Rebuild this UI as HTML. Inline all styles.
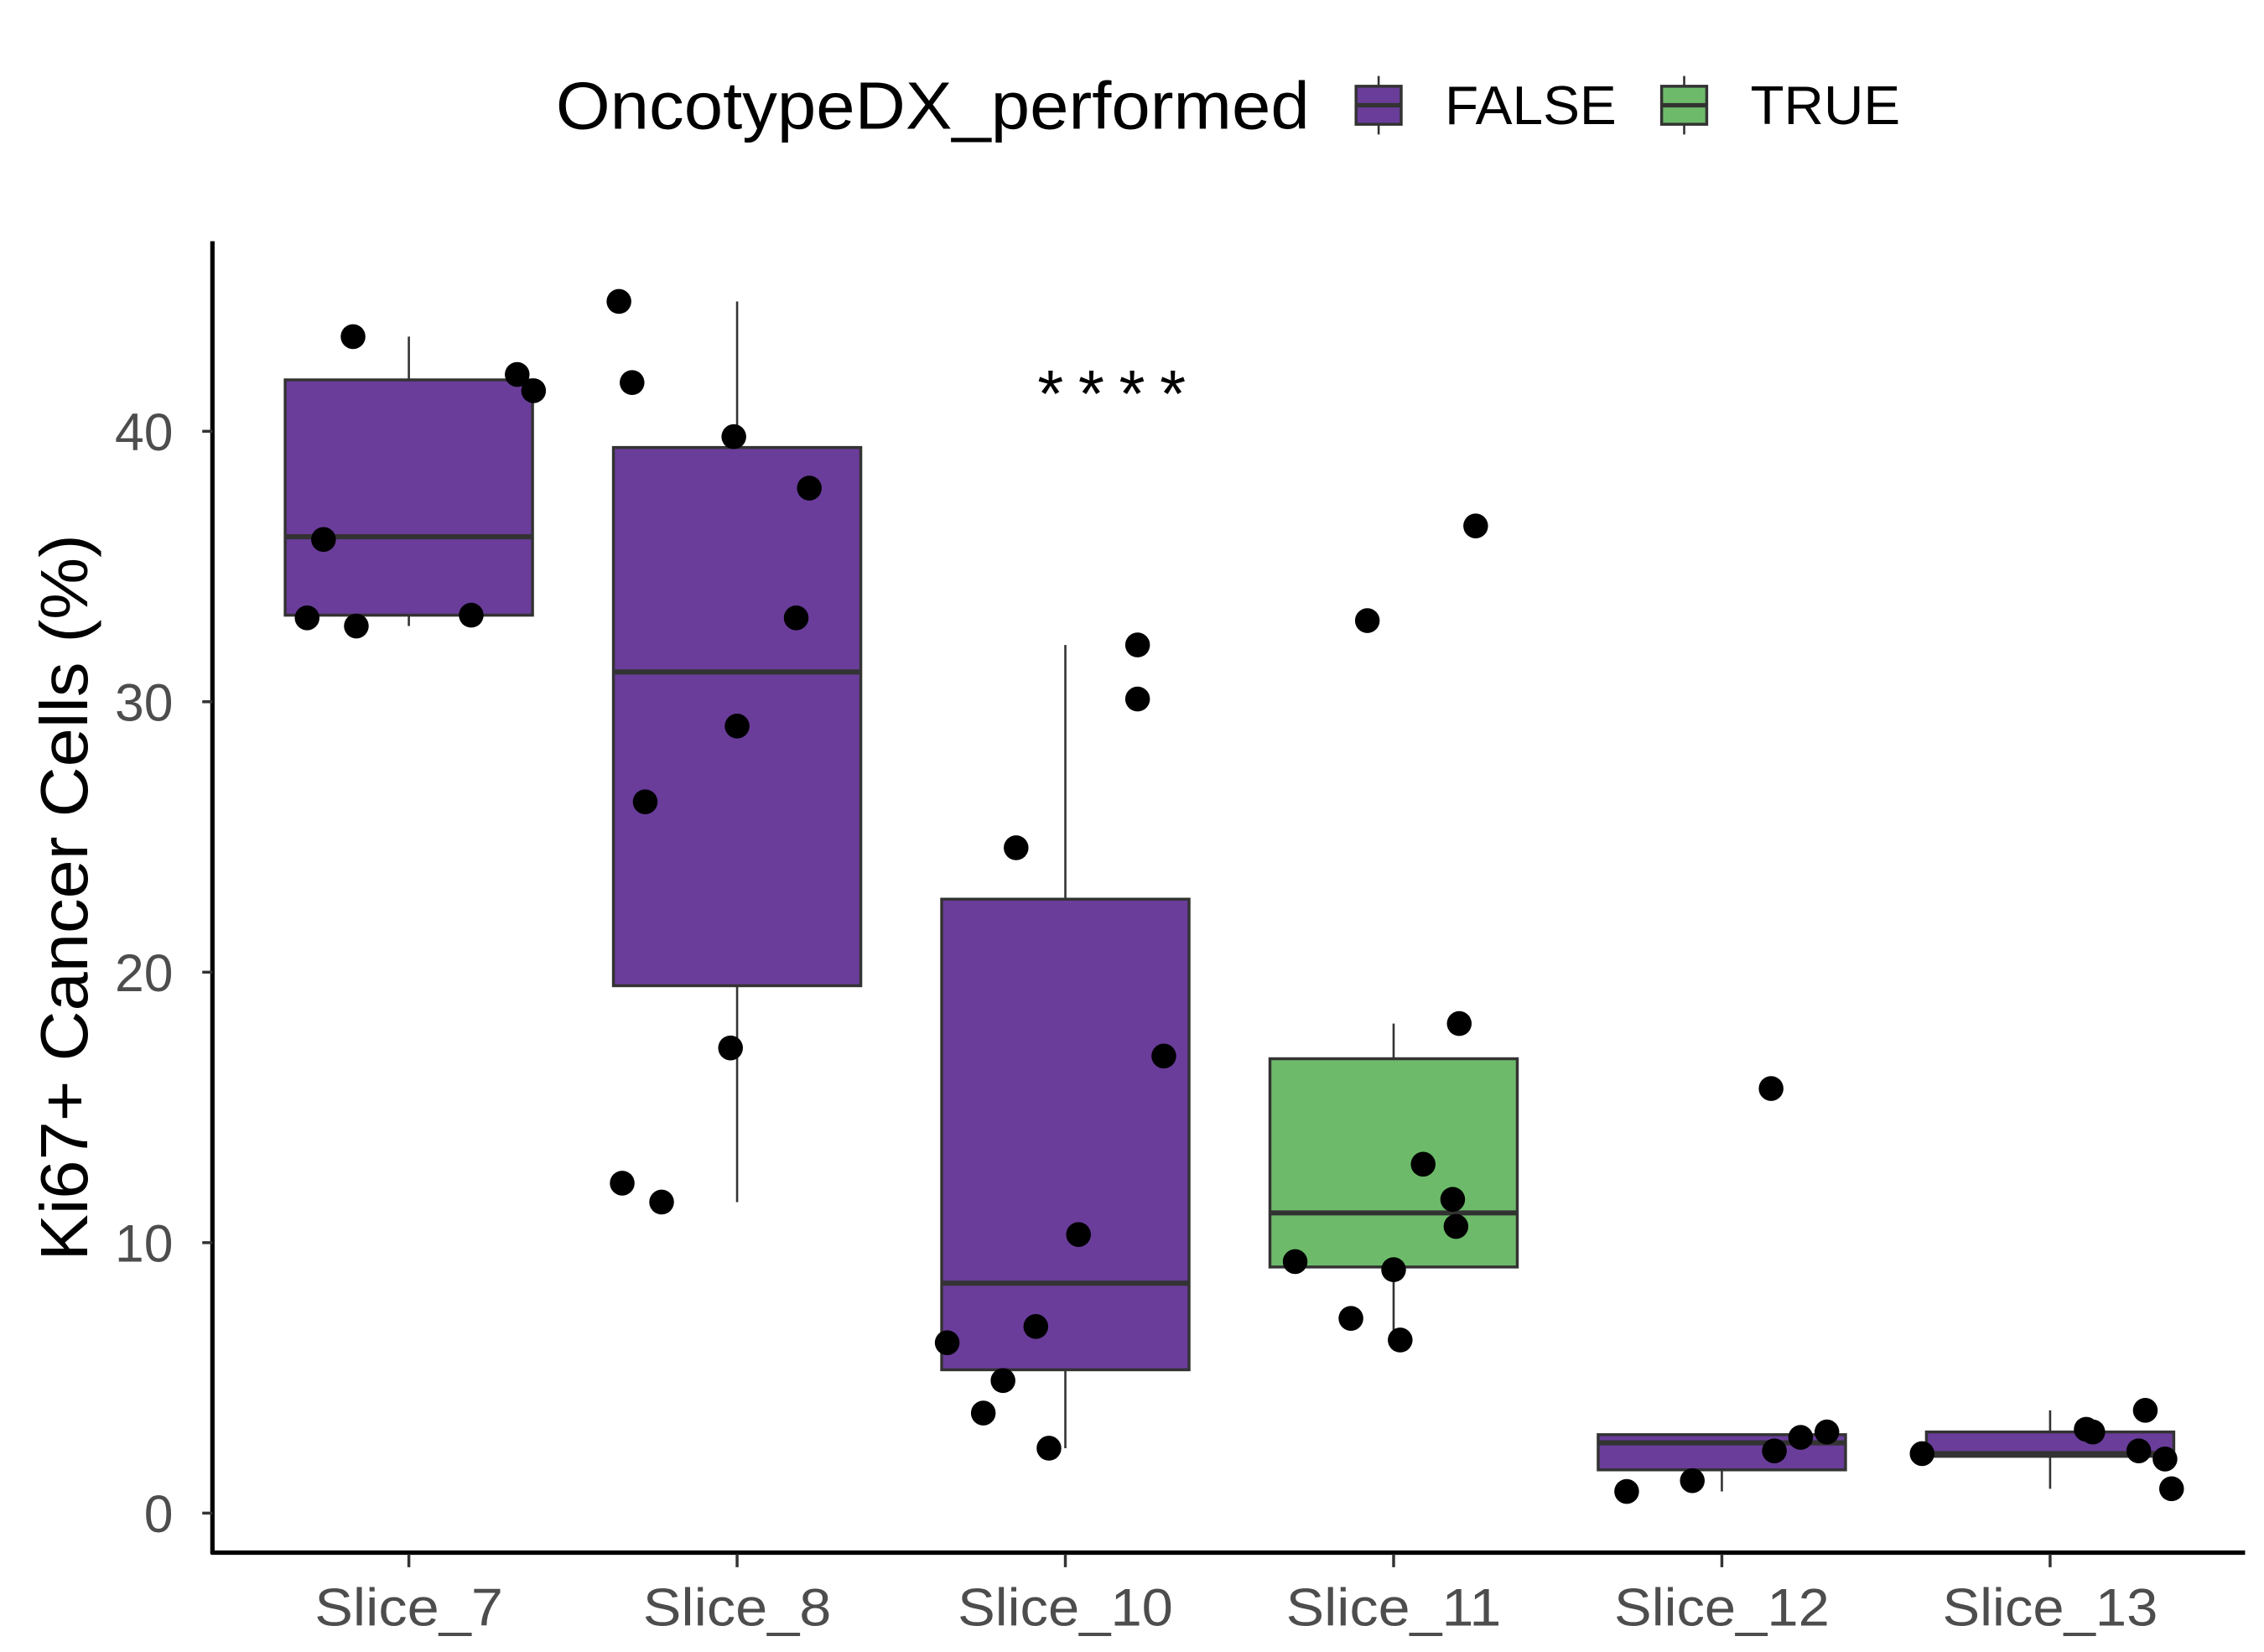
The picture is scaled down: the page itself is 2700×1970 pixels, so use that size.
<!DOCTYPE html>
<html><head><meta charset="utf-8"><style>
html,body{margin:0;padding:0;background:#fff;}
svg{display:block;font-family:"Liberation Sans",sans-serif;}
</style></head><body>
<svg id="chart" width="2700" height="1970" viewBox="0 0 1556 1130" preserveAspectRatio="none" xmlns="http://www.w3.org/2000/svg">
<rect width="1556" height="1130" fill="#fff"/>
<g id="legend">
  <text x="382" y="88" font-size="46" textLength="518" lengthAdjust="spacingAndGlyphs" fill="#000">OncotypeDX_performed</text>
  <g>
    <line x1="947.5" y1="52" x2="947.5" y2="92" stroke="#333" stroke-width="1.5"/>
    <rect x="932" y="59" width="31" height="26" fill="#6a3d9a" stroke="#333" stroke-width="2"/>
    <line x1="932" y1="72" x2="963" y2="72" stroke="#333" stroke-width="3"/>
    <text x="993" y="85" font-size="37" textLength="118" lengthAdjust="spacingAndGlyphs" fill="#000">FALSE</text>
  </g>
  <g>
    <line x1="1157.5" y1="52" x2="1157.5" y2="92" stroke="#333" stroke-width="1.5"/>
    <rect x="1142" y="59" width="31" height="26" fill="#6dbb6a" stroke="#333" stroke-width="2"/>
    <line x1="1142" y1="72" x2="1173" y2="72" stroke="#333" stroke-width="3"/>
    <text x="1203" y="85" font-size="37" textLength="103" lengthAdjust="spacingAndGlyphs" fill="#000">TRUE</text>
  </g>
</g>
<text transform="translate(60,614) rotate(-90)" text-anchor="middle" font-size="46" textLength="497" lengthAdjust="spacingAndGlyphs" fill="#000">Ki67+ Cancer Cells (%)</text>
<text x="764" y="285" text-anchor="middle" font-size="46" textLength="102" lengthAdjust="spacing" fill="#000">****</text>
<g id="plot"></g>
</svg>
<script>
const categories = ["Slice_7","Slice_8","Slice_10","Slice_11","Slice_12","Slice_13"];
const groups = ["FALSE","FALSE","FALSE","TRUE","FALSE","FALSE"];
const whiskerLow = [32.8, 11.5, 2.4, 6.4, 0.8, 0.9];
const q1 = [33.2, 19.5, 5.3, 9.1, 1.6, 2.1];
const median = [36.1, 31.1, 8.5, 11.1, 2.6, 2.2];
const q3 = [41.9, 39.4, 22.7, 16.8, 2.9, 3.0];
const whiskerHigh = [43.5, 44.8, 32.1, 18.1, 2.9, 3.8];
const yTicks = [0, 10, 20, 30, 40];
// points: category index, jitter (fraction of band), value
const pointCat = [0,0,0,0,0,0,0, 1,1,1,1,1,1,1,1,1,1, 2,2,2,2,2,2,2,2,2,2, 3,3,3,3,3,3,3,3,3,3, 4,4,4,4,4,4, 5,5,5,5,5,5,5];
const pointJitter = [-0.17,-0.26,-0.31,-0.16,0.19,0.33,0.38, -0.36,-0.32,-0.01,0.22,0.18,0,-0.28,-0.02,-0.35,-0.23, 0.22,0.22,-0.15,0.3,0.04,-0.36,-0.09,-0.19,-0.25,-0.05, 0.25,-0.08,0.2,0.09,0.18,0.19,-0.3,0,-0.13,0.02, 0.15,0.32,0.24,0.16,-0.09,-0.29, 0.29,0.11,0.13,-0.39,0.27,0.35,0.37];
const pointVal = [43.5,36.0,33.1,32.8,33.2,42.1,41.5, 44.8,41.8,39.8,37.9,33.1,29.1,26.3,17.2,12.2,11.5, 32.1,30.1,24.6,16.9,10.3,6.3,6.9,4.9,3.7,2.4, 36.5,33.0,18.1,12.9,11.6,10.6,9.3,9.0,7.2,6.4, 15.7,3.0,2.8,2.3,1.2,0.8, 3.8,3.1,3.0,2.2,2.3,2.0,0.9];

const NS = "http://www.w3.org/2000/svg";
const plot = document.getElementById('plot');
const y = v => 1035 - v * 18.5;
const band = 225.6;
const x = i => 281 + i * band;
const boxW = 170;
const fillFor = g => g === "TRUE" ? "#6dbb6a" : "#6a3d9a";
function mk(tag, attrs, parent) {
  const e = document.createElementNS(NS, tag);
  for (const k in attrs) e.setAttribute(k, attrs[k]);
  (parent || plot).appendChild(e);
  return e;
}
categories.forEach((c, i) => {
  const g = mk('g', {});
  
  
  mk('line', {x1: x(i), x2: x(i), y1: y(whiskerHigh[i]), y2: y(q3[i]), stroke: '#333', 'stroke-width': 1.5}, g);
  mk('line', {x1: x(i), x2: x(i), y1: y(q1[i]), y2: y(whiskerLow[i]), stroke: '#333', 'stroke-width': 1.5}, g);
  mk('rect', {x: x(i) - boxW / 2, y: y(q3[i]), width: boxW, height: y(q1[i]) - y(q3[i]), fill: fillFor(groups[i]), stroke: '#333', 'stroke-width': 2}, g);
  mk('line', {x1: x(i) - boxW / 2, x2: x(i) + boxW / 2, y1: y(median[i]), y2: y(median[i]), stroke: '#333', 'stroke-width': 3.5}, g);
});
pointVal.forEach((v, k) => {
  const c = mk('ellipse', {cx: x(pointCat[k]) + pointJitter[k] * band, cy: y(v), rx: 8.5, ry: 8.5, fill: '#000'});
  
  
});
const ya = mk('line', {x1: 146, x2: 146, y1: 165, y2: 1063, stroke: '#000', 'stroke-width': 3});


const xa = mk('line', {x1: 145, x2: 1543, y1: 1062, y2: 1062, stroke: '#000', 'stroke-width': 3});


yTicks.forEach(t => {
  mk('line', {x1: 139, x2: 146, y1: y(t), y2: y(t), stroke: '#333', 'stroke-width': 2});
  const tx = mk('text', {x: 119, y: y(t) + 13, 'text-anchor': 'end', 'font-size': 36, fill: '#4d4d4d'});
  tx.textContent = t;
  
  
});
categories.forEach((c, i) => {
  mk('line', {x1: x(i), x2: x(i), y1: 1063, y2: 1072, stroke: '#333', 'stroke-width': 2});
  const tx = mk('text', {x: x(i), y: 1112, 'text-anchor': 'middle', 'font-size': 36, textLength: c.length * 18.5, lengthAdjust: 'spacingAndGlyphs', fill: '#4d4d4d'});
  tx.textContent = c;
  
  
});
</script>
</body></html>
